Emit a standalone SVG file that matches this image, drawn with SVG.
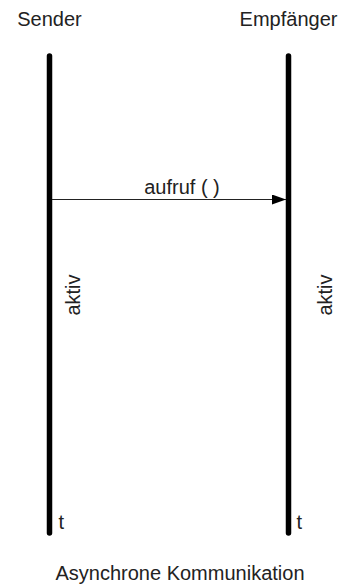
<svg xmlns="http://www.w3.org/2000/svg" width="343" height="588" viewBox="0 0 343 588">
<style>
text{font-family:"Liberation Sans",Arial,sans-serif;font-size:20px;fill:#222}
.life{stroke:#000;stroke-width:5.5;stroke-linecap:round}
.msg{stroke:#222;stroke-width:1.2;fill:none}
</style>
<defs>
<marker id="ah" markerWidth="14" markerHeight="10" refX="14" refY="5" orient="auto" markerUnits="userSpaceOnUse">
<path d="M0,0 L14,5 L0,10 Z" fill="#000"/>
</marker>
</defs>
<rect width="343" height="588" fill="#fff"/>
<g id="sender">
<text x="49.5" y="26" text-anchor="middle">Sender</text>
<line class="life" x1="49.5" y1="56" x2="49.5" y2="533"/>
<text text-anchor="middle" transform="translate(80 295) rotate(-90)">aktiv</text>
<text x="58.5" y="529">t</text>
</g>
<g id="empfaenger">
<text x="288.5" y="26" text-anchor="middle">Empfänger</text>
<line class="life" x1="288.5" y1="56" x2="288.5" y2="533"/>
<text text-anchor="middle" transform="translate(332 295) rotate(-90)">aktiv</text>
<text x="296.5" y="529">t</text>
</g>
<g id="connectors">
<line class="msg" x1="52" y1="199.5" x2="286" y2="199.5" marker-end="url(#ah)"/>
<text x="182" y="194" text-anchor="middle">aufruf ( )</text>
</g>
<text x="180" y="580" text-anchor="middle">Asynchrone Kommunikation</text>
</svg>
